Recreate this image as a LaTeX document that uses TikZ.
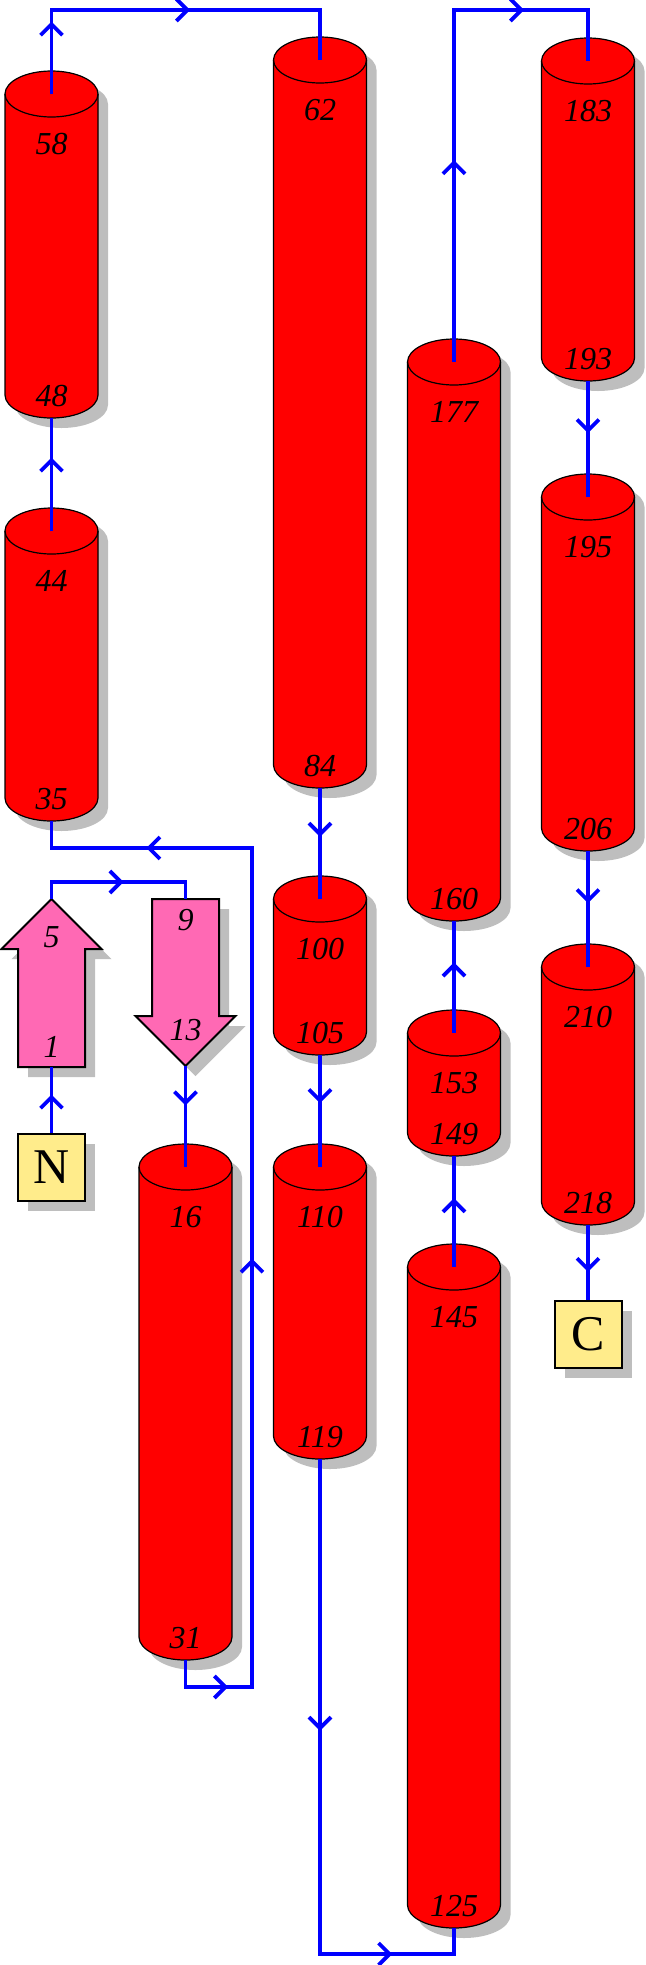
\documentclass[tikz,border=0pt]{standalone}
\usepackage{fontspec}
\setmainfont{Liberation Serif}
\usetikzlibrary{arrows.meta,decorations.markings}
\definecolor{HelixRed}{RGB}{255,0,0}
\definecolor{StrandPink}{RGB}{255,105,180}
\definecolor{TermYellow}{RGB}{255,236,139}
\definecolor{ShadowGray}{RGB}{190,190,190}
\definecolor{LinkBlue}{RGB}{0,0,255}

\begin{document}
\begin{tikzpicture}[x=.5pt,y=-.5pt,
  shadowed/.style={preaction={fill=ShadowGray,draw=none,transform canvas={shift={(5pt,-5pt)}}}},
  helix/.style={shadowed,fill=HelixRed,draw=black,line width=.6pt},
  strand/.style={shadowed,fill=StrandPink,draw=black,line width=1pt,line join=miter},
  term/.style={shadowed,fill=TermYellow,draw=black,line width=1pt,minimum size=33.5pt,inner sep=0pt,font=\fontsize{25}{25}\selectfont},
  resno/.style={font=\fontsize{16}{16}\selectfont\itshape,inner sep=0pt},
  link/.style={LinkBlue,line width=1.9pt},
  mid/.style={postaction={decorate,decoration={markings,mark=at position #1 with {\arrow{Straight Barb[length=5.5pt,width=11pt]}}}}}]
\useasboundingbox (0,0) rectangle (646,1965);
\foreach \n/\px/\ptop/\pbot/\ltop/\lbot in {h48/51.5/94/395/58/48,h35/51.5/531/798/44/35,h16/185.5/1167/1637/16/31,
  h62/320/60/765/62/84,h100/320/899/1032/100/105,h110/320/1167/1436/110/119,
  h125/454/1267/1905/145/125,h149/454/1033/1133/153/149,h160/454/362/898/177/160,
  h183/588/61/358/183/193,h195/588/497/828/195/206,h210/588/967/1202/210/218}{
  \path[helix] (\px-46.5,\ptop) -- (\px-46.5,\pbot) arc[start angle=180,end angle=0,x radius=46.5,y radius=23]
    -- (\px+46.5,\ptop) arc[start angle=0,end angle=-180,x radius=46.5,y radius=23] -- cycle;
  \draw[line width=.6pt] (\px-46.5,\ptop) arc[start angle=180,end angle=0,x radius=46.5,y radius=23];
  \coordinate (\n-t) at (\px,\ptop);
  \coordinate (\n-s) at (\px,\pbot+23);
  \node[resno] (\n-a) at (\px,\ptop+50) {\ltop};
  \node[resno] (\n-b) at (\px,\pbot+1) {\lbot};
}
\path[strand] (18,1067) -- (18,949) -- (1.5,949) -- (51.5,899) -- (101.5,949) -- (85,949) -- (85,1067) -- cycle;
\path[strand] (152,899) -- (219,899) -- (219,1016) -- (235.5,1016) -- (185.5,1066) -- (135.5,1016) -- (152,1016) -- cycle;
\coordinate (s1-base) at (51.5,1067);
\coordinate (s1-tip) at (51.5,899);
\coordinate (s2-top) at (185.5,899);
\coordinate (s2-tip) at (185.5,1066);
\node[resno] (s1-a) at (51.5,937) {5};
\node[resno] (s1-b) at (51.5,1047) {1};
\node[resno] (s2-a) at (185.5,920) {9};
\node[resno] (s2-b) at (185.5,1030) {13};
\node[term] (N) at (51.5,1167) {N};
\node[term] (C) at (588,1334) {C};
\draw[link,mid=.58] (N.north) -- (s1-base);
\draw[link,mid=.53] (s1-tip) -- ++(0,-17) -| (s2-top);
\draw[link,mid=.39] (s2-tip) -- (h16-t);
\draw[link,mid=.06,mid=.45,mid=.895] (h16-s) -- ++(0,27) -- ++(66.5,0) -- ++(0,-839) -| (h35-s);
\draw[link,mid=.65] (h35-t) -- (h48-s);
\draw[link,mid=.18,mid=.553] (h48-t) -- ++(0,-84) -| (h62-t);
\draw[link,mid=.44] (h62-s) -- (h100-t);
\draw[link,mid=.43] (h100-s) -- (h110-t);
\draw[link,mid=.415,mid=.866] (h110-s) -- ++(0,495) -| (h125-s);
\draw[link,mid=.62] (h125-t) -- (h149-s);
\draw[link,mid=.63] (h149-t) -- (h160-s);
\draw[link,mid=.376,mid=.786] (h160-t) -- ++(0,-352) -| (h183-t);
\draw[link,mid=.45] (h183-s) -- (h195-t);
\draw[link,mid=.45] (h195-s) -- (h210-t);
\draw[link,mid=.63] (h210-s) -- (C.north);
\end{tikzpicture}
\end{document}
